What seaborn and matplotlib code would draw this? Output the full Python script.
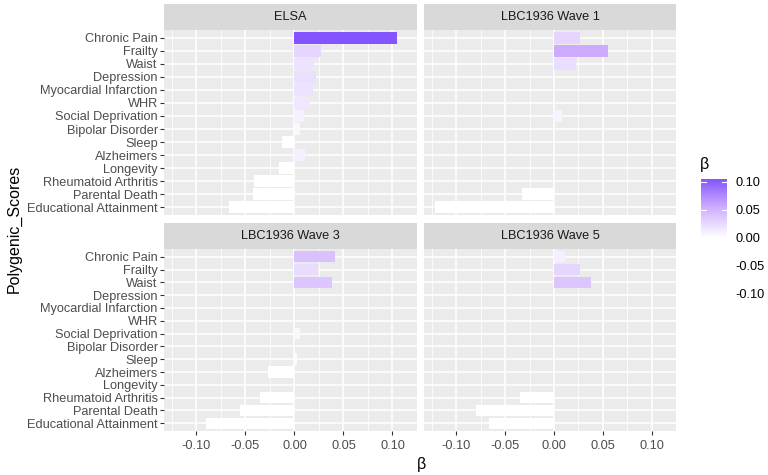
import numpy as np
import pandas as pd
import seaborn as sns
import matplotlib.pyplot as plt
from matplotlib.colors import LinearSegmentedColormap, Normalize
from matplotlib.cm import ScalarMappable

# polygenic scores, top to bottom
scores = ['Chronic Pain', 'Frailty', 'Waist', 'Depression', 'Myocardial Infarction', 'WHR',
          'Social Deprivation', 'Bipolar Disorder', 'Sleep', 'Alzheimers', 'Longevity',
          'Rheumatoid Arthritis', 'Parental Death', 'Educational Attainment']
cohorts = ['ELSA', 'LBC1936 Wave 1', 'LBC1936 Wave 3', 'LBC1936 Wave 5']

nan = np.nan
beta_elsa = [0.105, 0.027, 0.0197, 0.0217, 0.019, 0.0155, 0.0102, 0.0053,
             -0.0128, 0.011, -0.016, -0.0415, -0.042, -0.0665]
beta_w1 = [0.0267, 0.0553, 0.0223, nan, nan, nan, 0.0083, nan,
           nan, nan, nan, nan, -0.0327, -0.1217]
beta_w3 = [0.041, 0.0237, 0.038, nan, nan, nan, 0.0053, nan,
           0.0023, -0.027, nan, -0.0349, -0.056, -0.090]
beta_w5 = [0.0113, 0.027, 0.0383, nan, nan, nan, nan, nan,
           nan, nan, nan, -0.0347, -0.080, -0.0667]

x_ticks = [-0.10, -0.05, 0.00, 0.05, 0.10]

df = pd.DataFrame({
    'cohort': np.repeat(cohorts, len(scores)),
    'Polygenic_Scores': scores * len(cohorts),
    'beta': beta_elsa + beta_w1 + beta_w3 + beta_w5,
})

plt.rcParams['font.family'] = ['Liberation Sans', 'DejaVu Sans']

# fill scale: white below 0, white -> purple above (gradient2 style)
lo = df['beta'].min()
hi = df['beta'].max()
span = max(abs(lo), abs(hi))
cmap = LinearSegmentedColormap.from_list('beta', [
    (0.0, (1, 1, 1)), (0.5, (1, 1, 1)),
    (0.73, (0.80, 0.67, 1.0)), (1.0, (0.42, 0.22, 1.0))])
norm = Normalize(-span, span)

W, H = 768, 475
fig = plt.figure(figsize=(W / 100, H / 100), dpi=100)

def fig_rect(x0, y0, x1, y1):
    return [x0 / W, 1 - y1 / H, (x1 - x0) / W, (y1 - y0) / H]

cols = [(164, 417), (424, 676)]
rows = [(30, 215), (249, 431)]
strip_h = 26
tick_fs = 9.2
title_fs = 11.5

xpad = (hi - lo) * 0.05

for i, cohort in enumerate(cohorts):
    r, c = divmod(i, 2)
    x0, x1 = cols[c]
    y0, y1 = rows[r]
    ax = fig.add_axes(fig_rect(x0, y0, x1, y1))
    sub = df[df['cohort'] == cohort]
    pal = {s: (cmap(norm(b)) if not np.isnan(b) else 'white')
           for s, b in zip(sub['Polygenic_Scores'], sub['beta'])}
    sns.barplot(data=sub, x='beta', y='Polygenic_Scores', order=scores,
                hue='Polygenic_Scores', hue_order=scores, palette=pal,
                legend=False, errorbar=None, width=0.9, saturation=1,
                orient='h', ax=ax)
    ax.set_facecolor('#EBEBEB')
    ax.set_xlim(lo - xpad, hi + xpad)
    ax.set_ylim(len(scores) - 0.4, -0.6)
    ax.set_xticks(x_ticks)
    ax.set_xticks([-0.125, -0.075, -0.025, 0.025, 0.075, 0.125], minor=True)
    ax.grid(which='major', color='white', lw=1.1)
    ax.grid(which='minor', axis='x', color='white', lw=0.55)
    ax.set_axisbelow(True)
    for sp in ax.spines.values():
        sp.set_visible(False)
    ax.set_xlabel('')
    ax.set_ylabel('')
    ax.tick_params(which='minor', length=0)
    ax.tick_params(which='major', color='#333333', length=2.7, width=0.8,
                   labelsize=tick_fs, labelcolor='#4D4D4D', pad=1.8)
    ax.tick_params(axis='x', pad=4)
    ax.set_xticklabels([f'{t:.2f}' for t in x_ticks])
    if c == 1:
        ax.tick_params(axis='y', left=False, labelleft=False)
    if r == 0:
        ax.tick_params(axis='x', bottom=False, labelbottom=False)

    sax = fig.add_axes(fig_rect(x0, y0 - strip_h, x1, y0))
    sax.set_facecolor('#D9D9D9')
    sax.set_xticks([])
    sax.set_yticks([])
    for sp in sax.spines.values():
        sp.set_visible(False)
    sax.text(0.5, 0.5, cohort, ha='center', va='center', fontsize=tick_fs,
             color='#1A1A1A', transform=sax.transAxes)

fig.text(14 / W, 1 - 229 / H, 'Polygenic_Scores', rotation=90,
         ha='center', va='center', fontsize=title_fs)
fig.text(421 / W, 1 - 465 / H, 'β', ha='center', va='center', fontsize=title_fs)

# colour bar legend
fig.text(700 / W, 1 - 164 / H, 'β', ha='left', va='center', fontsize=title_fs)
cax = fig.add_axes(fig_rect(701, 179, 727, 306))
sm = ScalarMappable(norm=norm, cmap=cmap)
cbar = fig.colorbar(sm, cax=cax, boundaries=np.linspace(lo, hi, 200),
                    ticks=x_ticks)
cbar.outline.set_visible(False)
cbar.ax.set_yticklabels([f'{t:.2f}' for t in x_ticks])
cbar.ax.tick_params(length=0, labelsize=tick_fs, pad=6)
for t in x_ticks:
    cbar.ax.axhline(t, xmin=0, xmax=0.2, color='white', lw=0.8)
    cbar.ax.axhline(t, xmin=0.8, xmax=1, color='white', lw=0.8)

fig.savefig('out.png', dpi=100, facecolor='white')
